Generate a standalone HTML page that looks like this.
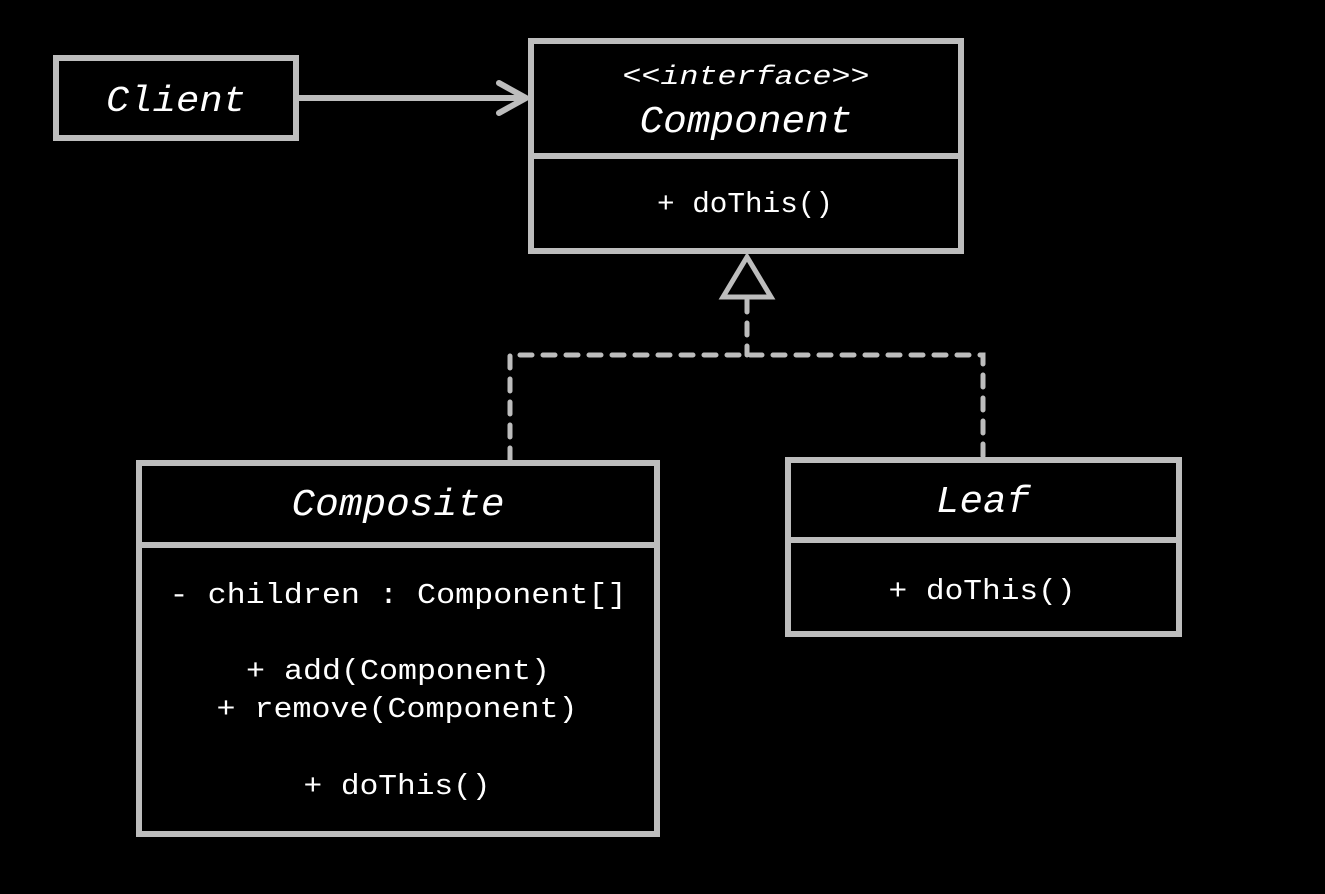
<!DOCTYPE html>
<html><head><meta charset="utf-8"><style>
html,body{margin:0;padding:0;background:#000;width:1325px;height:894px;overflow:hidden}
svg{display:block}
text{font-family:"Liberation Mono","DejaVu Sans Mono",monospace;fill:#fff;text-anchor:middle}
.i{font-style:italic}
</style></head><body>
<svg width="1325" height="894" viewBox="0 0 1325 894" xmlns="http://www.w3.org/2000/svg">
<rect width="1325" height="894" fill="#000"/>
<g fill="none" stroke="#bdbdbd" stroke-width="6">
<rect x="56" y="58" width="240" height="80"/>
<rect x="531" y="41" width="430" height="210"/>
<line x1="531" y1="156" x2="961" y2="156"/>
<rect x="139" y="463" width="518" height="371"/>
<line x1="139" y1="545" x2="657" y2="545"/>
<rect x="788" y="460" width="391" height="174"/>
<line x1="788" y1="540" x2="1179" y2="540"/>
<line x1="296" y1="98" x2="526" y2="98"/>
<polyline points="499,83 526,98 499,113" stroke-linecap="round" stroke-linejoin="round"/>
<polygon points="747,257 723,297 771,297" stroke-width="5"/>
<g stroke-width="5" stroke-dasharray="12 11" stroke-linecap="round">
<line x1="747" y1="300" x2="747" y2="355"/>
<polyline points="510,460 510,355 983,355 983,457"/>
</g>
</g>
<text class="i" x="176" y="111" font-size="36" textLength="140" lengthAdjust="spacingAndGlyphs">Client</text>
<text class="i" x="746" y="84" font-size="27" textLength="247" lengthAdjust="spacingAndGlyphs">&lt;&lt;interface&gt;&gt;</text>
<text class="i" x="746" y="132" font-size="38" textLength="213" lengthAdjust="spacingAndGlyphs">Component</text>
<text x="745" y="212" font-size="29" textLength="176" lengthAdjust="spacingAndGlyphs">+ doThis()</text>
<text class="i" x="398" y="515" font-size="38" textLength="213" lengthAdjust="spacingAndGlyphs">Composite</text>
<text x="398" y="603" font-size="29" textLength="457" lengthAdjust="spacingAndGlyphs">- children : Component[]</text>
<text x="398" y="679" font-size="29" textLength="304" lengthAdjust="spacingAndGlyphs">+ add(Component)</text>
<text x="397" y="717" font-size="29" textLength="361" lengthAdjust="spacingAndGlyphs">+ remove(Component)</text>
<text x="397" y="794" font-size="29" textLength="187" lengthAdjust="spacingAndGlyphs">+ doThis()</text>
<text class="i" x="983" y="512" font-size="38" textLength="94" lengthAdjust="spacingAndGlyphs">Leaf</text>
<text x="982" y="599" font-size="29" textLength="187" lengthAdjust="spacingAndGlyphs">+ doThis()</text>
</svg>
</body></html>
